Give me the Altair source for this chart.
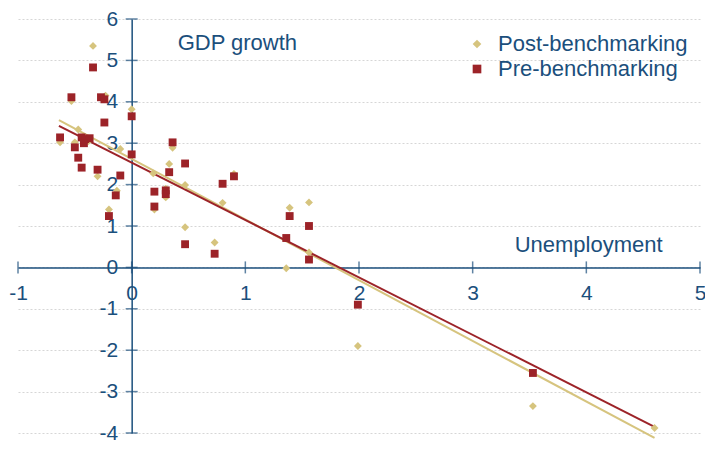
import altair as alt
import pandas as pd

# ---------------- data ----------------
series = ["Post-benchmarking", "Pre-benchmarking"]

post_x = [-0.34, -0.53, -0.23, 0.00, -0.47, -0.63, -0.50, -0.38, -0.10, -0.30,
          -0.13, -0.20, 0.36, 0.33, 0.19, 0.30, 0.30, 0.47, 0.20, 0.80,
          0.90, 0.47, 0.73, 1.39, 1.56, 1.56, 1.36, 1.99, 3.53, 4.60]
post_y = [5.35, 4.02, 4.15, 3.82, 3.33, 3.02, 3.02, 3.05, 2.86, 2.20,
          1.85, 1.40, 2.89, 2.50, 2.27, 1.69, 1.90, 1.99, 1.40, 1.56,
          2.26, 0.97, 0.60, 1.44, 1.57, 0.36, -0.02, -1.90, -3.35, -3.88]

pre_x = [-0.34, -0.53, -0.27, -0.24, 0.00, -0.24, -0.63, -0.44, -0.41, -0.37,
         -0.42, -0.50, -0.47, -0.44, -0.30, -0.10, 0.00, -0.14, -0.20, 0.36,
         0.47, 0.33, 0.20, 0.30, 0.30, 0.20, 0.80, 0.90, 0.47, 0.73,
         1.39, 1.56, 1.36, 1.56, 1.99, 3.53]
pre_y = [4.83, 4.11, 4.11, 4.06, 3.65, 3.50, 3.14, 3.14, 3.10, 3.12,
         3.00, 2.90, 2.65, 2.41, 2.36, 2.22, 2.73, 1.74, 1.24, 3.02,
         2.51, 2.30, 1.83, 1.86, 1.77, 1.47, 2.02, 2.20, 0.56, 0.33,
         1.24, 1.00, 0.71, 0.19, -0.90, -2.55]

fit_x = [-0.64, 4.60]
post_fit_y = [3.56, -4.12]
pre_fit_y = [3.42, -3.85]

x_ticks = [-1, 0, 1, 2, 3, 4, 5]
y_ticks = [-4, -3, -2, -1, 0, 1, 2, 3, 4, 5, 6]

ann_text = ["GDP growth", "Unemployment"]
ann_x = [0.93, 4.02]
ann_y = [5.42, 0.53]

# ---------------- styling ----------------
BLUE = "#1B4F7C"
GOLD = "#D6C47E"
RED = "#9C2328"
FONT = "Liberation Sans"
W, H = 682, 414
X_DOM, Y_DOM = [-1, 5], [-4, 6]
x_off = -(0 - X_DOM[0]) / (X_DOM[1] - X_DOM[0]) * W
y_off = -(0 - Y_DOM[0]) / (Y_DOM[1] - Y_DOM[0]) * H

points = pd.DataFrame({
    "x": post_x + pre_x,
    "y": post_y + pre_y,
    "series": [series[0]] * len(post_x) + [series[1]] * len(pre_x),
})
post_fit = pd.DataFrame({"x": fit_x, "y": post_fit_y})
pre_fit = pd.DataFrame({"x": fit_x, "y": pre_fit_y})
yt = pd.DataFrame({"x": [0] * len(y_ticks), "y": y_ticks})
xt = pd.DataFrame({"x": x_ticks, "y": [0] * len(x_ticks)})
ann = pd.DataFrame({"t": ann_text, "x": ann_x, "y": ann_y})

x_axis = alt.Axis(values=x_ticks, offset=y_off, orient="bottom", title=None,
                  domainColor=BLUE, domainWidth=1.5, ticks=False, grid=False,
                  labelFontSize=21, labelColor=BLUE, labelFont=FONT,
                  labelPadding=15, labelFlush=False, labelOverlap=False,
                  labelExpr="'' + datum.value")
y_axis = alt.Axis(values=y_ticks, offset=x_off, orient="left", title=None,
                  domainColor=BLUE, domainWidth=1.5, ticks=False, grid=True,
                  gridColor="#d6d6d6", gridDash=[2, 2], gridWidth=1,
                  labelFontSize=21, labelColor=BLUE, labelFont=FONT,
                  labelPadding=14, labelFlush=False, labelOverlap=False,
                  labelExpr="'' + datum.value")

xs = alt.Scale(domain=X_DOM, nice=False, zero=False)
ys = alt.Scale(domain=Y_DOM, nice=False, zero=False)
X = alt.X("x:Q", scale=xs, axis=x_axis)
Y = alt.Y("y:Q", scale=ys, axis=y_axis)

leg = alt.Legend(title=None, orient="none", legendX=448, legendY=14,
                 labelFontSize=22, labelColor=BLUE, labelFont=FONT, labelLimit=0,
                 symbolSize=75, symbolStrokeWidth=0, labelOffset=10,
                 rowPadding=3, padding=0)

pts = alt.Chart(points).mark_point(filled=True, opacity=1, size=62).encode(
    x=X, y=Y,
    color=alt.Color("series:N", scale=alt.Scale(domain=series, range=[GOLD, RED]), legend=leg),
    shape=alt.Shape("series:N", scale=alt.Scale(domain=series, range=["diamond", "square"]), legend=leg),
)

l_post = alt.Chart(post_fit).mark_line(color=GOLD, strokeWidth=2).encode(x=X, y=Y)
l_pre = alt.Chart(pre_fit).mark_line(color=RED, strokeWidth=2).encode(x=X, y=Y)

yticks = alt.Chart(yt).mark_tick(orient="horizontal", size=12, thickness=1.5, color=BLUE).encode(x=X, y=Y)
xticks = alt.Chart(xt).mark_tick(orient="vertical", size=12, thickness=1.5, color=BLUE).encode(x=X, y=Y)

texts = alt.Chart(ann).mark_text(fontSize=22, font=FONT, color=BLUE, align="center", baseline="middle").encode(
    x=X, y=Y, text="t:N")

chart = alt.layer(yticks, xticks, l_post, l_pre, pts, texts).properties(
    width=W, height=H,
    autosize=alt.AutoSizeParams(type="none"),
    padding={"left": 10, "top": 11, "right": 5, "bottom": 10},
).configure_view(stroke=None)

chart.save("out.html", embed_options={"renderer": "svg", "actions": False})
